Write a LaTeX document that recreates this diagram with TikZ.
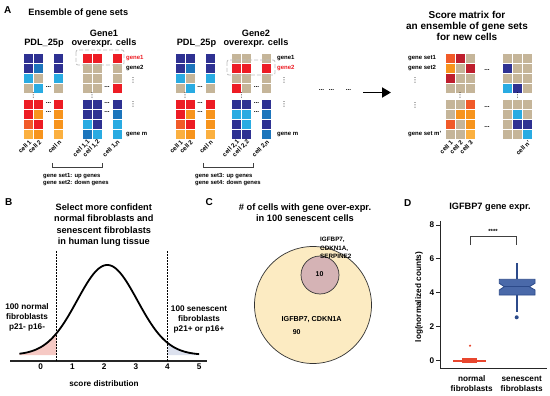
\documentclass[tikz,border=0pt]{standalone}
\usepackage{fontspec}
\setmainfont{Liberation Sans}
\newfontfamily\symfont{DejaVu Sans}
\usepackage{xcolor}
\usepackage{tikz}
\usetikzlibrary{arrows.meta,positioning}
\definecolor{navy}{HTML}{2E3192}
\definecolor{midblue}{HTML}{1C75BC}
\definecolor{skyblue}{HTML}{29ABE2}
\definecolor{sand}{HTML}{C5B599}
\definecolor{gred}{HTML}{ED1C24}
\definecolor{ored}{HTML}{F15A29}
\definecolor{orng}{HTML}{F7941D}
\definecolor{lorng}{HTML}{FBB040}
\definecolor{dred}{HTML}{BE1E2D}
\definecolor{pinkfill}{HTML}{F6C9C4}
\definecolor{bluefill}{HTML}{DCE1EE}
\definecolor{vennbig}{HTML}{FCEBC2}
\definecolor{vennsmall}{HTML}{D5B3B5}
\definecolor{boxblue}{HTML}{4A69A9}
\definecolor{boxedge}{HTML}{2C4A8A}
\definecolor{boxred}{HTML}{E8462E}
% grid of expression cells: x, y, offset of last column, rows c1/c2/cn
\newcommand{\cellgrid}[4]{%
  \foreach \ca/\cb/\cc [count=\r from 0] in {#4} {
    \pgfmathsetmacro\ry{#2+10*\r+6*(\r>3)}
    \fill[\ca] (#1,\ry) rectangle ++(9,9);
    \fill[\cb] ({#1+10},\ry) rectangle ++(9,9);
    \fill[\cc] ({#1+#3},\ry) rectangle ++(9,9);
  }}

\begin{document}
\begin{tikzpicture}[x=1pt, y=-1pt,
  panel/.style={font=\bfseries\fontsize{10}{12}\selectfont, inner sep=0pt},
  hdr/.style={font=\bfseries\fontsize{9.2}{11.3}\selectfont, align=center, inner sep=0pt},
  txt/.style={font=\bfseries\fontsize{8.2}{10}\selectfont, align=center, inner sep=0pt},
  lbl/.style={font=\bfseries\fontsize{6}{7}\selectfont, inner sep=0pt, anchor=west},
  cellname/.style={font=\bfseries\fontsize{6.2}{7}\selectfont, inner sep=0pt, rotate=45, anchor=east},
  hdots/.style={font=\bfseries\fontsize{6.5}{7}\selectfont, inner sep=0pt},
  vdots/.style={font=\symfont\fontsize{7}{8}\selectfont, inner sep=0pt},
  genebox/.style={draw=gray!50, dash pattern=on 4pt off 2pt, rounded corners=2pt, line width=0.8pt},
  bracket/.style={draw=black!75, line width=0.8pt},
  arrow/.style={-{Triangle[length=9pt,width=10pt]}, line width=1.8pt},
  axis/.style={draw=black!85, line width=1pt},
  curve/.style={line width=1.8pt, line join=round},
  cutoff/.style={line width=1.5pt, dash pattern=on 1.5pt off 1.5pt},
  venn/.style={circle, draw=black!80, line width=0.7pt, inner sep=0pt}
]
\useasboundingbox (0,0) rectangle (550,396);
\fill[white] (0,0) rectangle (550,396);

% ---- A
\node[panel] (pa) at (7.7,10) {A};
\node[hdr] (enstitle) at (78.3,13) {Ensemble of gene sets};

\node[hdr] (pdla) at (44,43.3) {PDL\_25p};
\node[hdr] (gene1head) at (104,33.3) {Gene1};
\node[hdr] (gene1sub) at (104,43.3) {overexpr. cells};
\node[hdr] (pdlb) at (196.5,43.3) {PDL\_25p};
\node[hdr] (gene2head) at (256,33.3) {Gene2};
\node[hdr] (gene2sub) at (256,43.3) {overexpr. cells};

\cellgrid{24}{54}{30}{navy/navy/navy, navy/midblue/navy, skyblue/sand/skyblue, sand/skyblue/sand,
  gred/gred/gred, gred/orng/orng, ored/gred/orng, lorng/orng/lorng}
\cellgrid{82.5}{54}{30}{gred/gred/gred, sand/sand/sand, sand/sand/sand, sand/sand/gred,
  navy/navy/navy, navy/navy/midblue, skyblue/navy/skyblue, midblue/skyblue/skyblue}
\cellgrid{175.5}{54}{30}{navy/navy/navy, navy/midblue/navy, skyblue/sand/skyblue, sand/skyblue/sand,
  gred/gred/gred, gred/orng/orng, ored/gred/orng, lorng/orng/lorng}
\cellgrid{232}{54}{30}{sand/sand/sand, gred/gred/gred, sand/sand/sand, gred/sand/sand,
  navy/navy/navy, skyblue/skyblue/midblue, navy/skyblue/navy, navy/navy/midblue}

% dots inside the grids
\foreach \gx in {24,82.5,175.5,232} {
  \node[hdots] at (\gx+24.5,87) {...};
  \node[hdots] at (\gx+24.5,103) {...};
  \node[hdots] at (\gx+24.5,112) {...};
  \node[vdots] at (\gx+9.5,95) {⋮};
}

\draw[genebox] (76,50) rectangle (124,65);
\draw[genebox] (227,60) rectangle (275,75);

\node[lbl, text=gred] (g1n1) at (126,58.5) {gene1};
\node[lbl] (g1n2) at (126,68.5) {gene2};
\node[vdots] (g1v1) at (133,80) {⋮};
\node[vdots] (g1v2) at (133,104) {⋮};
\node[lbl] (g1nm) at (126,134.5) {gene m};
\node[lbl] (g2n1) at (277,58.5) {gene1};
\node[lbl, text=gred] (g2n2) at (277,68.5) {gene2};
\node[vdots] (g2v1) at (284,80) {⋮};
\node[vdots] (g2v2) at (284,104) {⋮};
\node[lbl] (g2nm) at (277,134.5) {gene m};

\foreach \lx/\lt [count=\i] in {30.5/cell 1, 40.5/cell 2, 60.5/cell n,
    89/cell 1{,}1, 99/cell 1{,}2, 119/cell 1{,}n,
    182/cell 1, 192/cell 2, 212/cell n,
    238.5/cell 2{,}1, 248.5/cell 2{,}2, 268.5/cell 2{,}n}
  \node[cellname] (cl\i) at (\lx,141) {\lt};

\coordinate (br1l) at (52,163);
\coordinate (br1r) at (102,163);
\draw[bracket] (br1l) -- ++(0,4.5) -| (br1r);
\node[lbl, align=left, font=\bfseries\fontsize{5.9}{7}\selectfont] (set12) at (43,179.5) {gene set1: up genes\\gene set2: down genes};
\coordinate (br2l) at (203,163);
\coordinate (br2r) at (253,163);
\draw[bracket] (br2l) -- ++(0,4.5) -| (br2r);
\node[lbl, align=left, font=\bfseries\fontsize{5.9}{7}\selectfont] (set34) at (195,179.5) {gene set3: up genes\\gene set4: down genes};

\node[hdots] (more1) at (321.5,90) {...};
\node[hdots] (more2) at (331.5,90) {...};
\node[hdots] (more3) at (348.5,90) {...};
\coordinate (arrtail) at (363,92.5);
\coordinate (arrhead) at (391,92.5);
\draw[arrow] (arrtail) -- (arrhead);

\node[hdr, font=\bfseries\fontsize{10}{11}\selectfont] (scoretitle) at (467,26) {Score matrix for\\an ensemble of gene sets\\for new cells};
\cellgrid{445.5}{54}{20}{ored/dred/sand, orng/sand/dred, dred/sand/sand, sand/sand/sand,
  sand/sand/ored, sand/orng/orng, ored/sand/orng, sand/sand/lorng}
\cellgrid{503}{54}{20}{sand/sand/sand, navy/sand/sand, sand/sand/sand, skyblue/navy/sand,
  sand/sand/sand, sand/skyblue/sand, sand/navy/navy, sand/sand/skyblue}
\node[hdots] at (487,70) {...};
\node[hdots] at (487,107) {...};
\node[hdots] at (487,127) {...};
\node[vdots] at (460,95) {⋮};
\node[vdots] at (517.5,95) {⋮};
\node[lbl] (gs1) at (408,58.5) {gene set1};
\node[lbl] (gs2) at (408,68.5) {gene set2};
\node[vdots] (gsv1) at (415,80) {⋮};
\node[vdots] (gsv2) at (415,105) {⋮};
\node[lbl] (gsm) at (408,134.5) {gene set m'};
\foreach \lx/\lt [count=\i] in {452/cell 1, 462/cell 2, 472/cell 3, 529.5/cell n'}
  \node[cellname] (sc\i) at (\lx,141.5) {\lt};

% ---- B
\node[panel] (pb) at (8.8,202.5) {B};
\node[hdr] (btitle) at (103.8,225.2) {Select more confident\\normal fibroblasts and\\senescent fibroblasts\\in human lung tissue};
\fill[pinkfill] (19.5,355) -- plot[domain=-0.67:0.5, samples=30]
  ({40.7+31.7*\x},{355-90*exp(((\x-2.1)^2)/(-1.805))}) -- (56.5,355) -- cycle;
\fill[bluefill] (167.5,355) -- plot[domain=4:5, samples=30]
  ({40.7+31.7*\x},{355-90*exp(((\x-2.1)^2)/(-1.805))}) -- (199.2,355) -- cycle;
\draw[curve] plot[domain=-0.67:5, samples=120]
  ({40.7+31.7*\x},{355-90*exp(((\x-2.1)^2)/(-1.805))});
\draw[axis, line width=1.2pt] (10,361) -- (207,361);
\draw[cutoff] (56.5,251) -- (56.5,361);
\draw[cutoff] (167.5,251) -- (167.5,361);
\foreach \t in {0,...,5}
  \node[txt] (btick\t) at ({40.7+31.7*\t},367) {\t};
\node[txt] (bxlab) at (104,384) {score distribution};
\node[txt] (normsel) at (27,317) {100 normal\\fibroblasts\\p21- p16-};
\node[txt] (sensel) at (199,319) {100 senescent\\fibroblasts\\p21+ or p16+};

% ---- C
\node[panel] (pc) at (209.2,202) {C};
\node[hdr, font=\bfseries\fontsize{9.3}{11}\selectfont] (ctitle) at (305,213) {\# of cells with gene over-expr.\\in 100 senescent cells};
\node[venn, fill=vennbig, minimum size=117pt] (twogenes) at (313,305) {};
\node[venn, fill=vennsmall, minimum size=38pt] (threegenes) at (320,275) {};
\node[lbl, font=\bfseries\fontsize{7}{8}\selectfont, anchor=center] (n10) at (319.5,274.5) {10};
\node[lbl, font=\bfseries\fontsize{7.2}{8}\selectfont, anchor=center] (twolab) at (311.7,320) {IGFBP7, CDKN1A};
\node[lbl, font=\bfseries\fontsize{7}{8}\selectfont, anchor=center] (n90) at (296.7,331.7) {90};
\node[lbl, align=left, font=\bfseries\fontsize{6.3}{8.7}\selectfont] (threelab) at (320,248) {IGFBP7,\\CDKN1A,\\SERPINE2};

% ---- D
\node[panel] (pd) at (407.7,202.7) {D};
\node[hdr] (dtitle) at (490,207) {IGFBP7 gene expr.};
\draw[axis] (440,221) -- (440,368.3) -- (547,368.3);
\foreach \t in {0,2,4,6,8} {
  \draw[axis] (436,{360.7-16.96*\t}) -- (440,{360.7-16.96*\t});
  \node[txt, anchor=east] (dtick\t) at (434.5,{360.7-16.96*\t}) {\t};
}
\node[txt, rotate=90] (ylab) at (419,297) {log(normalized counts)};
% normal fibroblasts
\fill[boxred] (453.3,359.5) rectangle (486,362);
\fill[boxred] (461.7,358.3) rectangle (477.3,363);
\fill[boxred] (470,345.7) circle (1.2);
% senescent fibroblasts
\draw[boxedge, line width=1.8pt] (516.7,263.3) -- (516.7,279.3);
\draw[boxedge, line width=1.8pt] (516.7,295) -- (516.7,311.7);
\fill[boxedge] (516.7,317.3) circle (2);
\draw[boxedge, fill=boxblue, line width=0.8pt] (499.3,279.3) -- (535,279.3) -- (535,283.3)
  -- (529.3,286.7) -- (535,290) -- (535,295) -- (499.3,295) -- (499.3,290)
  -- (504.3,286.7) -- (499.3,283.3) -- cycle;
\draw[boxedge, line width=0.8pt] (504.3,286.7) -- (529.3,286.7);
% significance
\draw[bracket, line width=0.6pt] (470,245) -- (470,236.7) -- (516.7,236.7) -- (516.7,245);
\node[lbl, anchor=center] (stars) at (493,231.5) {****};
\node[txt] (xnorm) at (471.7,384) {normal\\fibroblasts};
\node[txt] (xsen) at (521.7,384) {senescent\\fibroblasts};
\end{tikzpicture}
\end{document}
